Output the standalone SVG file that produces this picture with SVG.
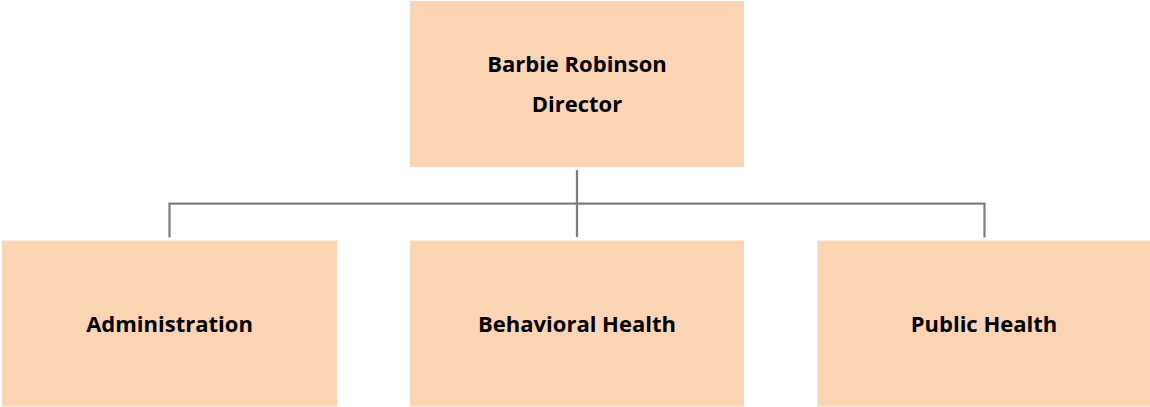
<svg xmlns="http://www.w3.org/2000/svg" width="1150" height="407" viewBox="0 0 1150 407">
  <style>
    .box { fill: #fbd4b4; }
    .label { font-family: "Open Sans", "Liberation Sans", sans-serif; font-weight: 700; font-size: 22px; fill: #000; text-anchor: middle; }
    .conn { fill: none; stroke: #7f7f7f; stroke-width: 2.25; }
  </style>
  <rect width="1150" height="407" fill="#ffffff"/>

  <g id="connectors">
    <path class="conn" d="M577,170 V237"/>
    <path class="conn" d="M169.5,237.5 V203.5 H984.5 V237.5"/>
  </g>

  <g id="director">
    <rect class="box" x="410" y="1" width="334" height="166"/>
    <text class="label" x="577" y="72">Barbie Robinson</text>
    <text class="label" x="577" y="111.5">Director</text>
  </g>

  <g id="administration">
    <rect class="box" x="2" y="240.5" width="335" height="166"/>
    <text class="label" x="169.5" y="331.5">Administration</text>
  </g>

  <g id="behavioral-health">
    <rect class="box" x="410" y="240.5" width="334" height="166"/>
    <text class="label" x="577" y="331.5">Behavioral Health</text>
  </g>

  <g id="public-health">
    <rect class="box" x="817.5" y="240.5" width="332.5" height="166"/>
    <text class="label" x="984" y="331.5">Public Health</text>
  </g>
</svg>
